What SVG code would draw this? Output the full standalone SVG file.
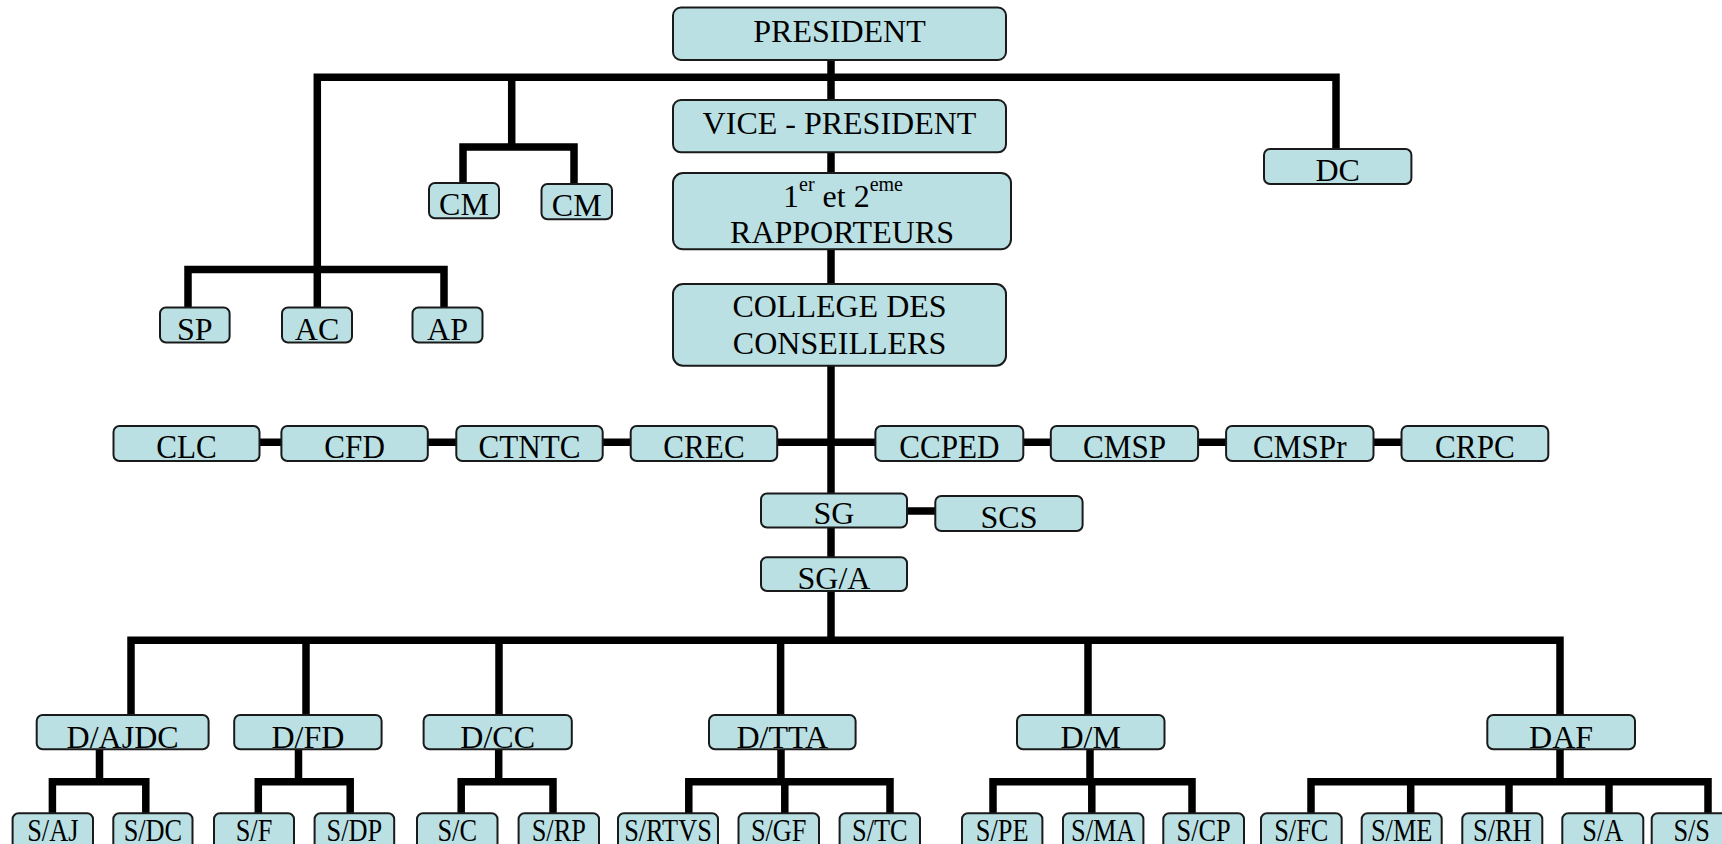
<svg xmlns="http://www.w3.org/2000/svg" width="1722" height="844" viewBox="0 0 1722 844">
<style>
.b{fill:#bae0e3;stroke:#1a1a1a;stroke-width:2}
.t{font-family:"Liberation Serif","Times New Roman",serif;font-size:32px;fill:#000;text-anchor:middle}
.s{font-size:31px}
.m{font-size:33.5px}
.c{fill:none;stroke:#000;stroke-width:7.5;stroke-linejoin:miter}
</style>
<rect width="1722" height="844" fill="#fff"/>
<g id="connectors" class="c">
<path d="M831 60V640"/>
<path d="M317.3 307V77.2H1336V149"/>
<path d="M511.7 77V147"/>
<path d="M463 183V147H574V183"/>
<path d="M188 307V269.5H444V307"/>
<path d="M157 442.2H1475"/>
<path d="M906 511H936"/>
<path d="M131 715V640.3H1560V715"/>
<path d="M306 640V715M499 640V715M780.6 640V715M1088 640V715"/>
<path d="M99.5 749V781.8M52.4 813V781.8H145.8V813"/>
<path d="M298.5 749V781.8M258.3 813V781.8H350.2V813"/>
<path d="M498.7 749V781.8M461.2 813V781.8H553V813"/>
<path d="M781 749V781.8M688.8 813V781.8H890V813M784.8 781.8V813"/>
<path d="M1090 749V781.8M993 813V781.8H1192V813M1091.8 781.8V813"/>
<path d="M1560 749V781.8M1311 813V781.8H1708V813M1410.7 781.8V813M1509 781.8V813M1609 781.8V813"/>
</g>
<g id="n-president"><rect class="b" x="673" y="7.5" width="333" height="52.5" rx="8"/><text class="t" x="839.5" y="41.7">PRESIDENT</text></g>
<g id="n-vice"><rect class="b" x="673" y="100" width="333" height="52.3" rx="8"/><text class="t" x="839.5" y="134.3">VICE - PRESIDENT</text></g>
<g id="n-rapporteurs"><rect class="b" x="673" y="173" width="338" height="76.3" rx="10"/><text class="t" x="843" y="206.7">1<tspan font-size="20" dy="-16">er</tspan><tspan dy="16"> et 2</tspan><tspan font-size="20" dy="-16">eme</tspan></text><text class="t" x="842" y="243.3">RAPPORTEURS</text></g>
<g id="n-college"><rect class="b" x="673" y="284" width="333" height="81.7" rx="10"/><text class="t" x="839.5" y="316.7">COLLEGE DES</text><text class="t" x="839.5" y="354.3">CONSEILLERS</text></g>
<g id="n-cm1"><rect class="b" x="429" y="183" width="70" height="35.3" rx="6"/><text class="t" x="464" y="215">CM</text></g>
<g id="n-cm2"><rect class="b" x="541.5" y="184" width="70.5" height="35.3" rx="6"/><text class="t" x="576.7" y="216">CM</text></g>
<g id="n-dc"><rect class="b" x="1264" y="149" width="147.4" height="35" rx="6"/><text class="t" x="1337.7" y="181">DC</text></g>
<g id="n-sp"><rect class="b" x="160" y="307.5" width="69.6" height="35" rx="6"/><text class="t" x="194.8" y="340">SP</text></g>
<g id="n-ac"><rect class="b" x="282" y="307.5" width="70" height="35" rx="6"/><text class="t" x="317" y="340">AC</text></g>
<g id="n-ap"><rect class="b" x="412.5" y="307.5" width="70" height="35" rx="6"/><text class="t" x="447.5" y="340">AP</text></g>
<g id="n-clc"><rect class="b" x="113.5" y="426" width="146" height="35" rx="6"/><text class="t m" transform="translate(186.5 458.3) scale(0.93 1)">CLC</text></g>
<g id="n-cfd"><rect class="b" x="281.4" y="426" width="146.4" height="35" rx="6"/><text class="t m" transform="translate(354.6 458.3) scale(0.93 1)">CFD</text></g>
<g id="n-ctntc"><rect class="b" x="456.3" y="426" width="146.4" height="35" rx="6"/><text class="t m" transform="translate(529.5 458.3) scale(0.93 1)">CTNTC</text></g>
<g id="n-crec"><rect class="b" x="630.7" y="426" width="146.5" height="35" rx="6"/><text class="t m" transform="translate(704 458.3) scale(0.93 1)">CREC</text></g>
<g id="n-ccped"><rect class="b" x="875.4" y="426" width="147.9" height="35" rx="6"/><text class="t m" transform="translate(949.4 458.3) scale(0.93 1)">CCPED</text></g>
<g id="n-cmsp"><rect class="b" x="1050.8" y="426" width="147.3" height="35" rx="6"/><text class="t m" transform="translate(1124.5 458.3) scale(0.93 1)">CMSP</text></g>
<g id="n-cmspr"><rect class="b" x="1226.1" y="426" width="147.4" height="35" rx="6"/><text class="t m" transform="translate(1299.8 458.3) scale(0.93 1)">CMSPr</text></g>
<g id="n-crpc"><rect class="b" x="1401.5" y="426" width="146.8" height="35" rx="6"/><text class="t m" transform="translate(1474.9 458.3) scale(0.93 1)">CRPC</text></g>
<g id="n-sg"><rect class="b" x="761" y="493.5" width="146" height="34" rx="6"/><text class="t" x="834" y="524.3">SG</text></g>
<g id="n-scs"><rect class="b" x="935.3" y="496" width="147.3" height="35" rx="6"/><text class="t" x="1009" y="527.7">SCS</text></g>
<g id="n-sga"><rect class="b" x="761" y="557.3" width="146" height="33.7" rx="6"/><text class="t" x="834" y="589">SG/A</text></g>
<g id="n-dajdc"><rect class="b" x="36.7" y="715" width="171.9" height="34.3" rx="6"/><text class="t" x="122.6" y="747.7">D/AJDC</text></g>
<g id="n-dfd"><rect class="b" x="234.2" y="715" width="147.4" height="34.3" rx="6"/><text class="t" x="307.9" y="747.7">D/FD</text></g>
<g id="n-dcc"><rect class="b" x="423.6" y="715" width="148.2" height="34.3" rx="6"/><text class="t" x="497.7" y="747.7">D/CC</text></g>
<g id="n-dtta"><rect class="b" x="709" y="715" width="146.6" height="34.3" rx="6"/><text class="t" x="782.3" y="747.7">D/TTA</text></g>
<g id="n-dm"><rect class="b" x="1017" y="715" width="147.5" height="34.3" rx="6"/><text class="t" x="1090.7" y="747.7">D/M</text></g>
<g id="n-daf"><rect class="b" x="1487.3" y="715" width="147.7" height="34.3" rx="6"/><text class="t" x="1561.1" y="747.7">DAF</text></g>
<g id="n-saj"><rect class="b" x="12.6" y="813.3" width="80.4" height="36" rx="6"/><text class="t s" transform="translate(52.8 840.7) scale(0.85 1)">S/AJ</text></g>
<g id="n-sdc"><rect class="b" x="113.3" y="813.3" width="79.2" height="36" rx="6"/><text class="t s" transform="translate(152.9 840.7) scale(0.85 1)">S/DC</text></g>
<g id="n-sf"><rect class="b" x="214" y="813.3" width="80" height="36" rx="6"/><text class="t s" transform="translate(254 840.7) scale(0.85 1)">S/F</text></g>
<g id="n-sdp"><rect class="b" x="314.6" y="813.3" width="79.6" height="36" rx="6"/><text class="t s" transform="translate(354.4 840.7) scale(0.85 1)">S/DP</text></g>
<g id="n-sc"><rect class="b" x="417" y="813.3" width="80.5" height="36" rx="6"/><text class="t s" transform="translate(457.2 840.7) scale(0.85 1)">S/C</text></g>
<g id="n-srp"><rect class="b" x="518.6" y="813.3" width="80.4" height="36" rx="6"/><text class="t s" transform="translate(558.8 840.7) scale(0.85 1)">S/RP</text></g>
<g id="n-srtvs"><rect class="b" x="618" y="813.3" width="100" height="36" rx="6"/><text class="t s" transform="translate(668 840.7) scale(0.85 1)">S/RTVS</text></g>
<g id="n-sgf"><rect class="b" x="738.5" y="813.3" width="80.5" height="36" rx="6"/><text class="t s" transform="translate(778.7 840.7) scale(0.85 1)">S/GF</text></g>
<g id="n-stc"><rect class="b" x="839.6" y="813.3" width="80.4" height="36" rx="6"/><text class="t s" transform="translate(879.8 840.7) scale(0.85 1)">S/TC</text></g>
<g id="n-spe"><rect class="b" x="962" y="813.3" width="80.4" height="36" rx="6"/><text class="t s" transform="translate(1002.2 840.7) scale(0.85 1)">S/PE</text></g>
<g id="n-sma"><rect class="b" x="1063" y="813.3" width="80.4" height="36" rx="6"/><text class="t s" transform="translate(1103.2 840.7) scale(0.85 1)">S/MA</text></g>
<g id="n-scp"><rect class="b" x="1163.3" y="813.3" width="80.7" height="36" rx="6"/><text class="t s" transform="translate(1203.6 840.7) scale(0.85 1)">S/CP</text></g>
<g id="n-sfc"><rect class="b" x="1261" y="813.3" width="80.7" height="36" rx="6"/><text class="t s" transform="translate(1301.3 840.7) scale(0.85 1)">S/FC</text></g>
<g id="n-sme"><rect class="b" x="1361.7" y="813.3" width="80" height="36" rx="6"/><text class="t s" transform="translate(1401.7 840.7) scale(0.85 1)">S/ME</text></g>
<g id="n-srh"><rect class="b" x="1462.3" y="813.3" width="80" height="36" rx="6"/><text class="t s" transform="translate(1502.3 840.7) scale(0.85 1)">S/RH</text></g>
<g id="n-sa"><rect class="b" x="1562.3" y="813.3" width="81" height="36" rx="6"/><text class="t s" transform="translate(1602.8 840.7) scale(0.85 1)">S/A</text></g>
<g id="n-ss"><rect class="b" x="1651.7" y="813.3" width="80" height="36" rx="6"/><text class="t s" transform="translate(1691.7 840.7) scale(0.85 1)">S/S</text></g>
</svg>
